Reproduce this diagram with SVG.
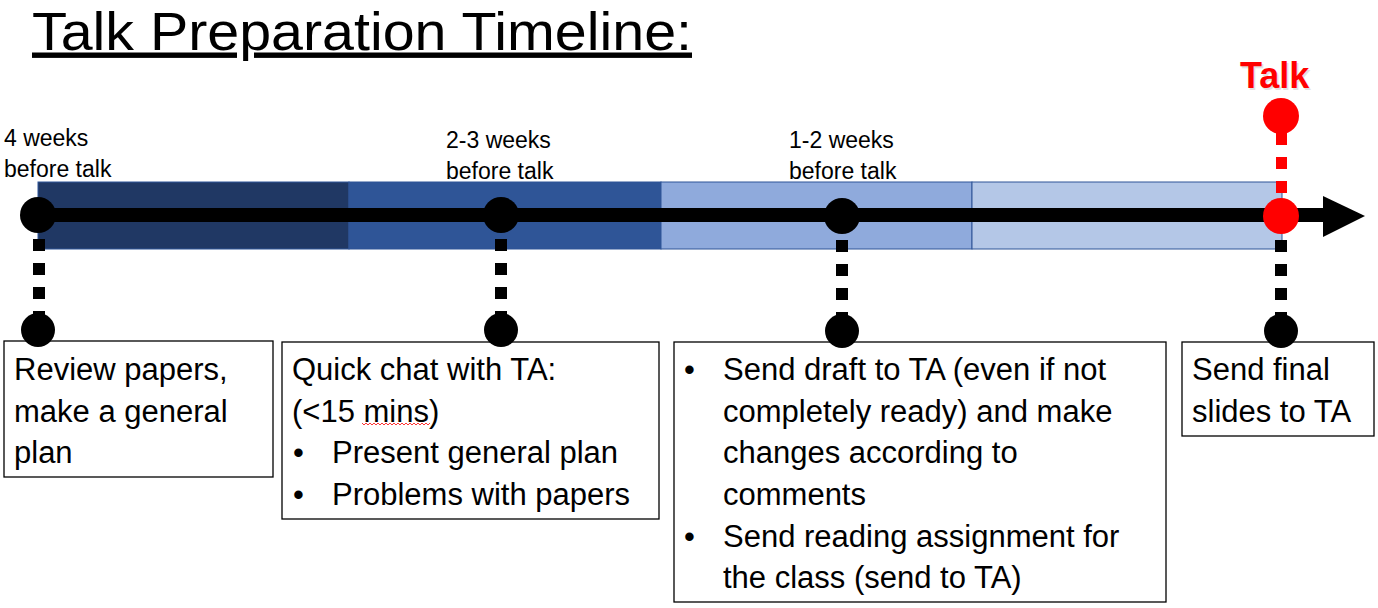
<svg xmlns="http://www.w3.org/2000/svg" width="1378" height="608" viewBox="0 0 1378 608">
<style>
.t{font-family:"Liberation Sans",Arial,sans-serif;fill:#000}
.body{font-size:31px}
.wk{font-size:23px}
.box{fill:#fff;stroke:#000;stroke-width:1.3}
.seg{stroke:#2F5597;stroke-width:1}
.dot{fill:#000}
.dash{stroke:#000;stroke-width:12;stroke-dasharray:12 12;fill:none}
</style>
<rect width="1378" height="608" fill="#fff"/>
<g id="title">
<text class="t" x="32" y="49.5" font-size="54" textLength="660" lengthAdjust="spacingAndGlyphs" text-decoration="underline">Talk Preparation Timeline:</text>
</g>
<g id="bar">
<rect class="seg" x="38" y="182" width="311" height="67" fill="#203864"/>
<rect class="seg" x="349" y="182" width="312" height="67" fill="#2F5597"/>
<rect class="seg" x="661" y="182" width="311" height="67" fill="#8FAADC"/>
<rect class="seg" x="972" y="182" width="310" height="67" fill="#B4C7E7"/>
</g>
<g id="connectors">
<rect x="38" y="208" width="1286" height="14" fill="#000"/>
<polygon points="1323,196 1365,216 1323,237" fill="#000"/>
<line class="dash" x1="39" y1="239" x2="39" y2="320"/>
<line class="dash" x1="501" y1="239" x2="501" y2="320"/>
<line class="dash" x1="842" y1="240" x2="842" y2="320"/>
<line class="dash" x1="1281" y1="240" x2="1281" y2="320"/>
<line x1="1281.5" y1="133" x2="1281.5" y2="196" stroke="#FF0000" stroke-width="11" stroke-dasharray="12 12"/>
</g>
<g id="talk">
<text class="t" x="1241.5" y="89.5" font-size="36" font-weight="bold" style="fill:#e2e2e2">Talk</text>
<text class="t" x="1240" y="88" font-size="36" font-weight="bold" style="fill:#FF0000">Talk</text>
<circle cx="1281" cy="116" r="18" fill="#FF0000"/>
</g>
<g id="week4">
<text class="t wk" x="4" y="146">4 weeks</text>
<text class="t wk" x="4" y="177">before talk</text>
<circle class="dot" cx="38" cy="215" r="18"/>
</g>
<g id="week23">
<text class="t wk" x="446" y="148">2-3 weeks</text>
<text class="t wk" x="446" y="179">before talk</text>
<circle class="dot" cx="501" cy="215" r="18"/>
</g>
<g id="week12">
<text class="t wk" x="789" y="148">1-2 weeks</text>
<text class="t wk" x="789" y="179">before talk</text>
<circle class="dot" cx="842" cy="216" r="18"/>
</g>
<g id="talkpoint">
<circle cx="1281" cy="216" r="18" fill="#FF0000"/>
</g>
<g id="box1">
<rect class="box" x="4" y="341" width="269" height="136"/>
<circle class="dot" cx="38" cy="330" r="17"/>
<text class="t body" x="14" y="380">Review papers,</text>
<text class="t body" x="14" y="422">make a general</text>
<text class="t body" x="14" y="463">plan</text>
</g>
<g id="box2">
<rect class="box" x="282" y="342" width="377" height="177"/>
<circle class="dot" cx="501" cy="330" r="17"/>
<text class="t body" x="292" y="380">Quick chat with TA:</text>
<text class="t body" x="292" y="422">(&lt;15 mins)</text>
<polyline points="362,423 364,425 366,423 368,425 370,423 372,425 374,423 376,425 378,423 380,425 382,423 384,425 386,423 388,425 390,423 392,425 394,423 396,425 398,423 400,425 402,423 404,425 406,423 408,425 410,423 412,425 414,423 416,425 418,423 420,425 422,423 424,425 426,423 428,425 430,423" fill="none" stroke="#FF0000" stroke-width="0.8"/>
<text class="t body" x="293" y="463">•</text>
<text class="t body" x="332" y="463">Present general plan</text>
<text class="t body" x="293" y="505">•</text>
<text class="t body" x="332" y="505">Problems with papers</text>
</g>
<g id="box3">
<rect class="box" x="674" y="342" width="492" height="260"/>
<circle class="dot" cx="842" cy="331" r="17"/>
<text class="t body" x="684" y="380">•</text>
<text class="t body" x="723" y="380">Send draft to TA (even if not</text>
<text class="t body" x="723" y="422">completely ready) and make</text>
<text class="t body" x="723" y="463">changes according to</text>
<text class="t body" x="723" y="505">comments</text>
<text class="t body" x="684" y="547">•</text>
<text class="t body" x="723" y="547">Send reading assignment for</text>
<text class="t body" x="723" y="588">the class (send to TA)</text>
</g>
<g id="box4">
<rect class="box" x="1182" y="342" width="192" height="94"/>
<circle class="dot" cx="1281" cy="331" r="17"/>
<text class="t body" x="1192" y="380">Send final</text>
<text class="t body" x="1192" y="422">slides to TA</text>
</g>
</svg>
